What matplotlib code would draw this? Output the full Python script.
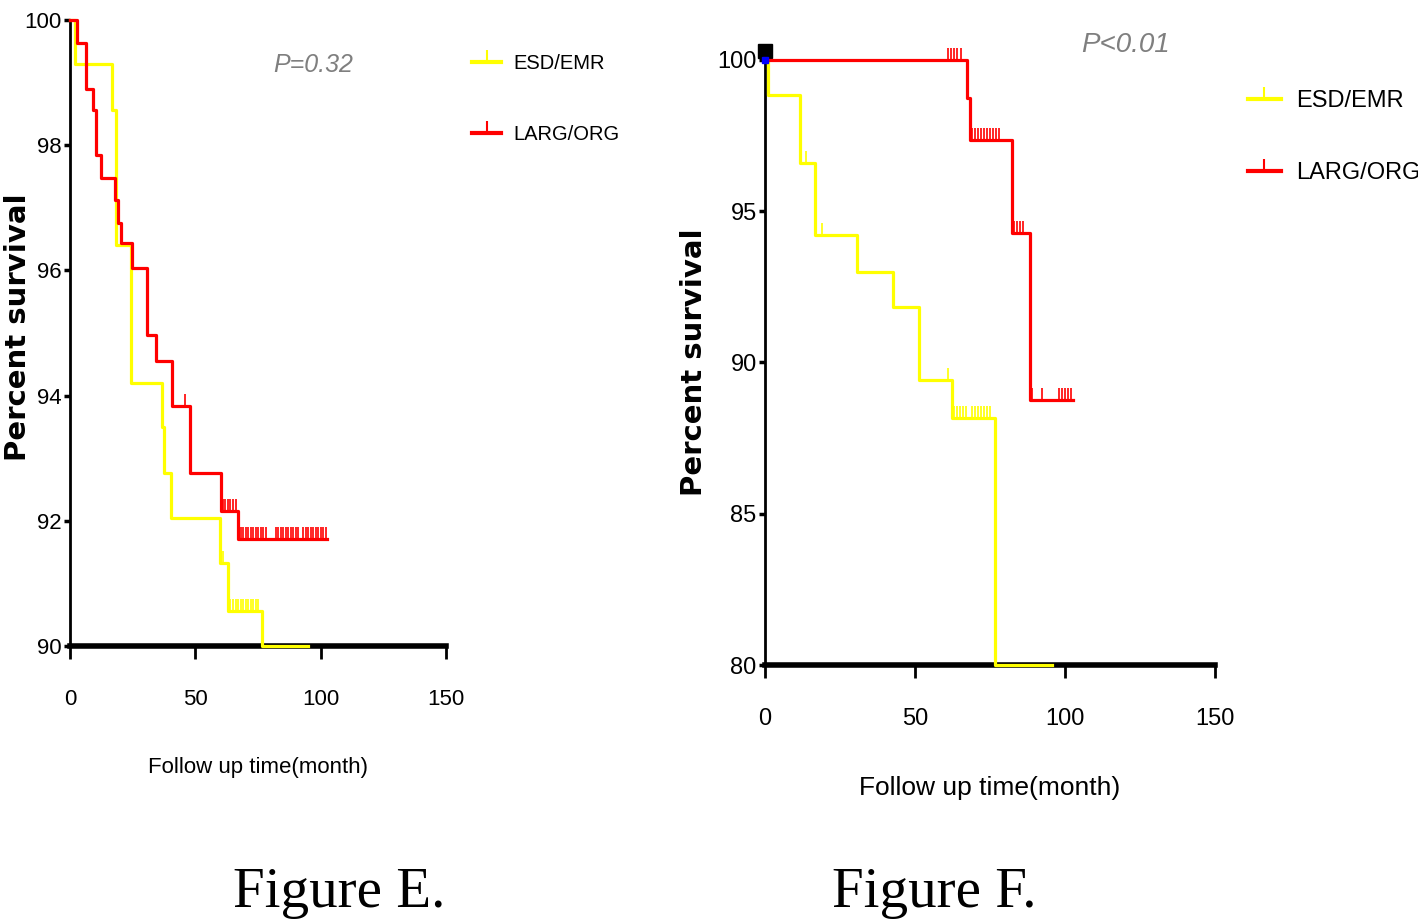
import numpy as np
import matplotlib
matplotlib.use("Agg")
import matplotlib.pyplot as plt
from matplotlib.lines import Line2D

# ---- data (months, percent survival) ----
# Figure E
e_esd_t = [0, 2, 16.6, 18.3, 24.5, 36.5, 37.6, 40.2, 60.0, 63.0, 76.5]
e_esd_s = [100, 99.3, 98.56, 96.4, 94.2, 93.5, 92.77, 92.05, 91.33, 90.56, 90.0]
e_esd_end = 95
e_esd_cens_t = [61, 64, 65, 66, 67, 68, 69, 70, 71, 72, 73, 74, 75]

e_larg_t = [0, 2.7, 6.4, 9.3, 10.4, 12.2, 17.9, 19.3, 20.3, 24.6, 30.5, 34.3, 40.5, 47.8, 60.4, 67.0]
e_larg_s = [100, 99.63, 98.9, 98.56, 97.84, 97.47, 97.12, 96.75, 96.43, 96.03, 94.96, 94.56, 93.84, 92.77, 92.16, 91.71]
e_larg_end = 102.3
e_larg_cens_t = [46, 61, 62, 63, 64, 65, 66, 68, 69, 70, 71, 72, 73, 74, 75, 76, 77, 78,
                 82, 83, 84, 85, 86, 87, 88, 89, 90, 91, 93, 94, 95, 96, 97, 98, 99, 100, 101, 102]

# Figure F
f_esd_t = [0, 1, 11.7, 16.7, 30.6, 42.6, 51.4, 62.2, 76.7]
f_esd_s = [100, 98.85, 96.58, 94.2, 93.0, 91.84, 89.42, 88.15, 80.0]
f_esd_end = 95.6
f_esd_cens_t = [13.6, 19, 61, 63, 64, 65, 66, 67, 69, 70, 71, 72, 73, 74, 75]

f_larg_t = [0, 67.2, 68.3, 82.2, 88.3]
f_larg_s = [100, 98.73, 97.36, 94.28, 88.76]
f_larg_end = 102.7
f_larg_cens_t = [61, 62, 63, 64, 65.5, 69, 70, 71, 72, 73, 74, 75, 76, 77, 78,
                 83, 84, 85, 86, 89, 92.5, 98, 99, 100, 101, 102]

groups = ["ESD/EMR", "LARG/ORG"]
colors = ["#ffff00", "#ff0000"]

narrow = ["Liberation Sans Narrow", "Liberation Sans", "DejaVu Sans"]


def level_at(times, surv, t):
    # survival value of a step curve at time t
    idx = np.searchsorted(times, t, side="right") - 1
    return surv[idx]


def km(ax, times, surv, end, cens, color):
    xs = list(times) + [end]
    ys = list(surv) + [surv[-1]]
    ax.step(xs, ys, where="post", color=color, lw=2.3, clip_on=False, zorder=3)
    cy = [level_at(times, surv, c) for c in cens]
    ax.plot(cens, cy, ls="none", marker=2, ms=9, mew=1.2, color=color,
            clip_on=False, zorder=3)


def style(ax, yticks, ylim, tsize, xlsize):
    ax.set_xlim(0, 150)
    ax.set_ylim(*ylim)
    ax.set_xticks([0, 50, 100, 150])
    ax.set_yticks(yticks)
    for s in ["top", "right"]:
        ax.spines[s].set_visible(False)
    ax.spines["left"].set_linewidth(2)
    ax.spines["bottom"].set_linewidth(4)
    ax.tick_params(axis="y", length=4.5, width=2.5, pad=1.5)
    ax.tick_params(axis="x", length=9, width=2, pad=22)
    for lab in ax.get_xticklabels() + ax.get_yticklabels():
        lab.set_family(narrow)
        lab.set_fontsize(tsize)
    ax.set_xlabel("Follow up time(month)", family=narrow, fontsize=xlsize)
    ax.set_ylabel("Percent survival", family="DejaVu Sans", fontweight="bold",
                  fontsize=21)


def legend(ax, anchor, size, spacing):
    handles = [Line2D([0], [0], color=c, lw=3, marker=2, ms=9, mew=1.5)
               for c in colors]
    ax.legend(handles, groups, loc="upper left", bbox_to_anchor=anchor,
              frameon=False, borderpad=0, borderaxespad=0, numpoints=1,
              handlelength=1.4, handletextpad=0.65, labelspacing=spacing,
              prop={"family": narrow, "size": size})


fig = plt.figure(figsize=(14.18, 9.24), dpi=100)
axE = fig.add_axes([0.0494, 0.3009, 0.2652, 0.6775])
axF = fig.add_axes([0.5395, 0.2803, 0.3173, 0.6548])

km(axE, e_esd_t, e_esd_s, e_esd_end, e_esd_cens_t, colors[0])
km(axE, e_larg_t, e_larg_s, e_larg_end, e_larg_cens_t, colors[1])
style(axE, [90, 92, 94, 96, 98, 100], (90, 100), 16, 16)
axE.xaxis.set_label_coords(0.5, -0.177)
axE.yaxis.set_label_coords(-0.1, 0.51)
axE.text(0.646, 0.928, "P=0.32", transform=axE.transAxes, ha="center", va="center",
         color="#7f7f7f", style="italic", family=narrow, fontsize=18)
legend(axE, (1.07, 0.945), 14.5, 2.55)

km(axF, f_esd_t, f_esd_s, f_esd_end, f_esd_cens_t, colors[0])
km(axF, f_larg_t, f_larg_s, f_larg_end, f_larg_cens_t, colors[1])
style(axF, [80, 85, 90, 95, 100], (80, 100), 17, 19)
axF.xaxis.set_label_coords(0.5, -0.183)
axF.yaxis.set_label_coords(-0.127, 0.50)
axF.plot([0], [100.3], marker="s", ms=10, color="black", clip_on=False, zorder=2)
axF.plot([0], [100], marker="s", ms=5, color="#0000ff", clip_on=False, zorder=4)
axF.text(0.802, 1.025, "P<0.01", transform=axF.transAxes, ha="center", va="center",
         color="#7f7f7f", style="italic", family=narrow, fontsize=20)
legend(axF, (1.073, 0.95), 17, 2.1)

fig.text(339 / 1418, 1 - 893 / 924, "Figure E.", family="Liberation Serif",
         fontsize=41, ha="center", va="center")
fig.text(934 / 1418, 1 - 893 / 924, "Figure F.", family="Liberation Serif",
         fontsize=41, ha="center", va="center")

fig.savefig("out.png", dpi=100)
